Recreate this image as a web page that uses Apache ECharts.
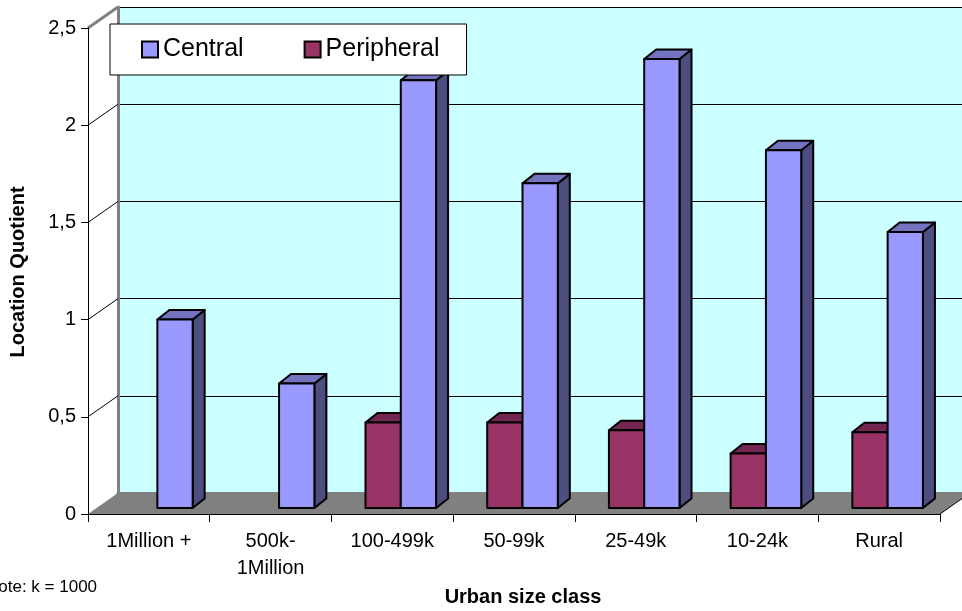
<!DOCTYPE html>
<html>
<head>
<meta charset="utf-8">
<script src="https://cdn.jsdelivr.net/npm/echarts@6/dist/echarts.min.js"></script>
<style>
  html, body { margin: 0; padding: 0; background: #fff; }
  #chart { width: 962px; height: 611px; }
</style>
</head>
<body>
<div id="chart"></div>
<script>
// data
const categories = ['1Million +', '500k-\n1Million', '100-499k', '50-99k', '25-49k', '10-24k', 'Rural'];
const central = [0.97, 0.64, 2.20, 1.67, 2.31, 1.84, 1.42];
const peripheral = [null, null, 0.44, 0.44, 0.40, 0.28, 0.39];
const yTicks = [0, 0.5, 1, 1.5, 2, 2.5];

// fake 3d geometry
const DX = 30, DY = 21;          // depth of the floor / back wall
const SX = 8.5, SY = 6;          // where the bars stand on the floor
const BDX = 12, BDY = 9.5;       // depth of one bar
const FONT = '"Liberation Sans", Arial, sans-serif';

const G = { left: 88, top: 28, width: 852, height: 486 };

const chart = echarts.init(document.getElementById('chart'));

function bar3d(side, front, topC, sideC) {
  return function (params, api) {
    const cat = api.value(0), v = api.value(1);
    const base = api.coord([cat, 0]);
    const top = api.coord([cat, v]);
    const w = api.size([1, 0])[0] * 0.29;
    const x1 = base[0] + SX + side * w, x2 = x1 + w;
    const yb = base[1] - SY, yt = top[1] - SY;
    const st = { stroke: '#000', lineWidth: 2, lineJoin: 'round' };
    return {
      type: 'group',
      children: [
        { type: 'polygon', shape: { points: [[x2, yt], [x2 + BDX, yt - BDY], [x2 + BDX, yb - BDY], [x2, yb]] },
          style: Object.assign({ fill: sideC }, st) },
        { type: 'polygon', shape: { points: [[x1, yt], [x1 + BDX, yt - BDY], [x2 + BDX, yt - BDY], [x2, yt]] },
          style: Object.assign({ fill: topC }, st) },
        { type: 'rect', shape: { x: x1, y: yt, width: w, height: yb - yt },
          style: Object.assign({ fill: front }, st) }
      ]
    };
  };
}

chart.setOption({
  backgroundColor: '#fff',
  animation: false,
  textStyle: { fontFamily: FONT },
  legend: {
    data: ['Central', 'Peripheral'],
    left: 110, top: 24,
    padding: [13, 27, 13, 31],
    backgroundColor: '#fff',
    borderColor: '#000',
    borderWidth: 1,
    itemWidth: 16, itemHeight: 16, itemGap: 60,
    icon: 'rect',
    itemStyle: { borderColor: '#000', borderWidth: 2 },
    textStyle: { fontSize: 25, color: '#000', fontFamily: FONT }
  },
  grid: [
    Object.assign({ containLabel: false }, G),
    { left: G.left + DX, top: G.top - DY, width: G.width, height: G.height,
      show: true, backgroundColor: '#CCFFFF', borderWidth: 0 }
  ],
  xAxis: [
    {
      type: 'category', gridIndex: 0, data: categories, z: 5,
      axisLine: { lineStyle: { color: '#000', width: 1 } },
      axisTick: { show: true, length: 8, lineStyle: { color: '#000' } },
      axisLabel: { color: '#000', fontSize: 20, lineHeight: 27, margin: 14, interval: 0, fontFamily: FONT }
    },
    {
      type: 'category', gridIndex: 1, data: categories, position: 'top',
      axisLine: { lineStyle: { color: '#808080', width: 3 } },
      axisTick: { show: false }, axisLabel: { show: false }
    }
  ],
  yAxis: [
    {
      type: 'value', gridIndex: 0, min: 0, max: 2.5, interval: 0.5, z: 5,
      axisLine: { show: true, lineStyle: { color: '#000', width: 1 } },
      axisTick: { show: true, length: 7, lineStyle: { color: '#000' } },
      splitLine: { show: false },
      axisLabel: { color: '#000', fontSize: 20, margin: 12, fontFamily: FONT,
        formatter: v => String(v).replace('.', ',') }
    },
    {
      type: 'value', gridIndex: 1, min: 0, max: 2.5, interval: 0.5,
      axisLine: { show: true, lineStyle: { color: '#808080', width: 3 } },
      axisTick: { show: false }, axisLabel: { show: false },
      splitLine: { show: true, lineStyle: { color: '#000', width: 1 } }
    }
  ],
  graphic: [
    { type: 'text', x: 18, y: 272, rotation: Math.PI / 2,
      style: { text: 'Location Quotient', font: 'bold 20px ' + FONT, fill: '#000', align: 'center', verticalAlign: 'middle' } },
    { type: 'text', x: 523, y: 597,
      style: { text: 'Urban size class', font: 'bold 20px ' + FONT, fill: '#000', align: 'center', verticalAlign: 'middle' } },
    { type: 'text', x: -14, y: 587,
      style: { text: 'Note: k = 1000', font: '17px ' + FONT, fill: '#000', align: 'left', verticalAlign: 'middle' } }
  ],
  series: [
    {
      // floor
      type: 'custom', xAxisIndex: 0, yAxisIndex: 0, z: 1, silent: true,
      data: [[0, 0]],
      renderItem: function (params, api) {
        const r = params.coordSys;
        const yb = r.y + r.height;
        return {
          type: 'group',
          children: [
            { type: 'polygon', shape: { points: [[r.x, yb], [r.x + r.width, yb], [r.x + r.width + DX, yb - DY], [r.x + DX, yb - DY]] },
              style: { fill: '#808080' } },
            { type: 'line', shape: { x1: r.x + r.width, y1: yb, x2: r.x + r.width + DX, y2: yb - DY },
              style: { stroke: '#000', lineWidth: 1 } }
          ]
        };
      }
    },
    {
      // side wall lines
      type: 'custom', xAxisIndex: 0, yAxisIndex: 0, z: 1, silent: true,
      data: yTicks.filter(v => v > 0).map(v => [0, v]),
      renderItem: function (params, api) {
        const x = params.coordSys.x;
        const v = api.value(1);
        const y = api.coord([0, v])[1];
        const last = v === yTicks[yTicks.length - 1];
        return { type: 'line', shape: { x1: x, y1: y, x2: x + DX, y2: y - DY },
          style: { stroke: last ? '#808080' : '#000', lineWidth: last ? 3 : 1 } };
      }
    },
    {
      name: 'Peripheral', type: 'custom', xAxisIndex: 0, yAxisIndex: 0, z: 2,
      itemStyle: { color: '#993366' },
      data: peripheral.map((v, i) => [i, v]).filter(d => d[1] != null),
      renderItem: bar3d(-1, '#993366', '#732650', '#4D1A33')
    },
    {
      name: 'Central', type: 'custom', xAxisIndex: 0, yAxisIndex: 0, z: 3,
      itemStyle: { color: '#9999FF' },
      data: central.map((v, i) => [i, v]),
      renderItem: bar3d(0, '#9999FF', '#7373BF', '#4D4D80')
    }
  ]
});
</script>
</body>
</html>
